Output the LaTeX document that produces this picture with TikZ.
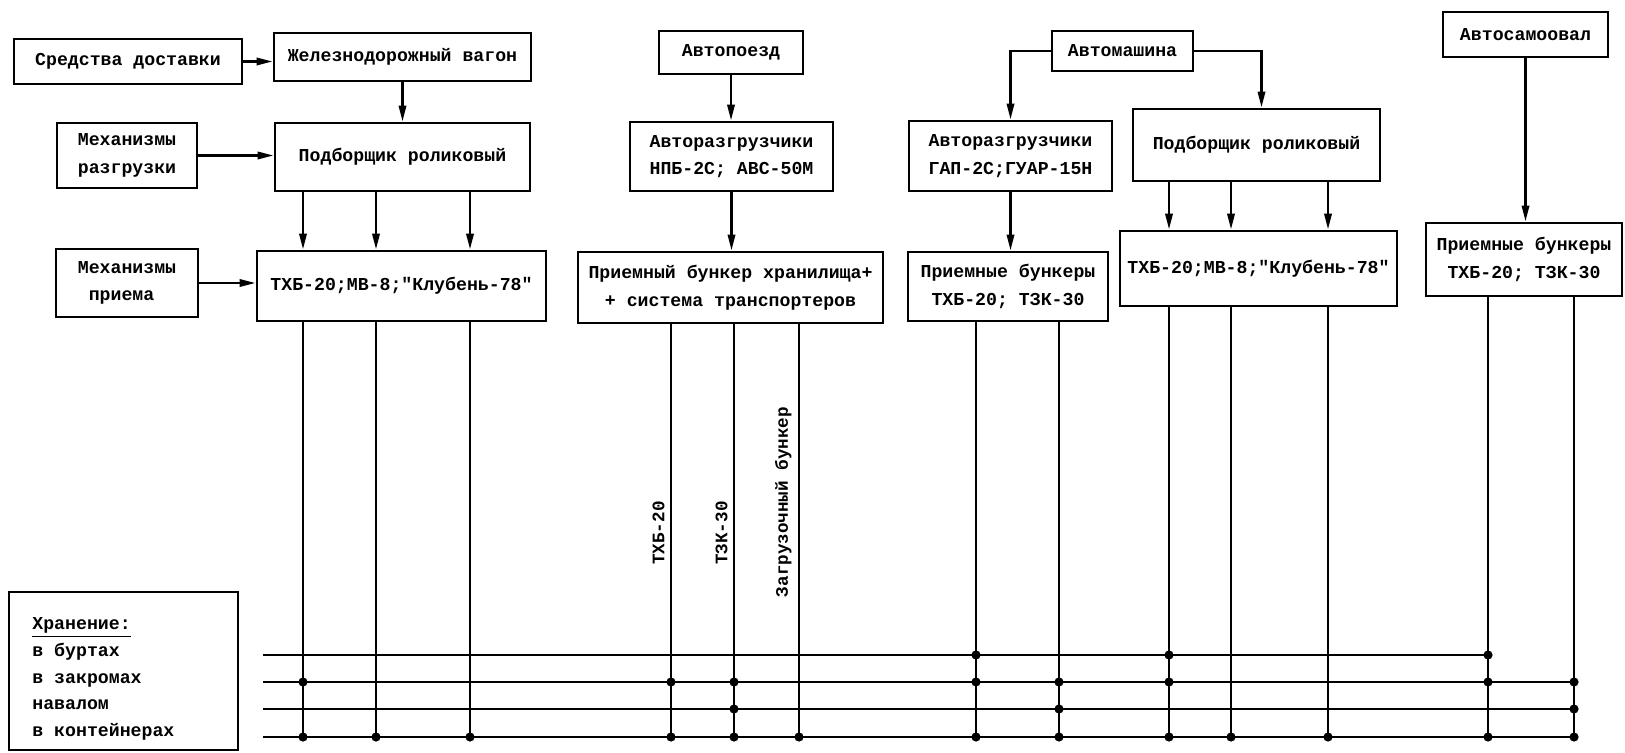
\documentclass[tikz,border=0pt]{standalone}
\usepackage{fontspec}
\setmonofont{Liberation Mono}
\usetikzlibrary{arrows.meta}

\begin{document}
\begin{tikzpicture}[x=0.5pt,y=-0.5pt,
  box/.style={draw, line width=1.3pt, align=center, inner sep=2pt,
    font=\ttfamily\bfseries\fontsize{9.1}{13.8}\selectfont},
  lbl/.style={font=\ttfamily\bfseries\fontsize{8.8}{10}\selectfont,
    rotate=90, inner sep=0pt},
  arr/.style={line width=1.3pt, -{Triangle[length=8pt,width=3.6pt]}},
  ln/.style={line width=1.3pt}]
  \useasboundingbox (0,0) rectangle (1625,753);
  % delivery and unloading
  \node[box, minimum width=114pt, minimum height=22.5pt] (dost) at (128,61.5) {Средства доставки};
  \node[box, minimum width=128.5pt, minimum height=24pt] (vagon) at (402.5,57) {Железнодорожный вагон};
  \node[box, minimum width=70pt, minimum height=32.5pt] (razgr) at (127,155.5) {Механизмы\\разгрузки};
  \node[box, minimum width=127.5pt, minimum height=34pt] (podb1) at (402.5,157) {Подборщик роликовый};
  \node[box, minimum width=71pt, minimum height=34pt, align=left] (priem) at (127,283) {Механизмы\\\hspace*{0.6em}приема};
  \node[box, minimum width=144.5pt, minimum height=35pt] (tkhb1) at (401.5,286) {ТХБ-20;МВ-8;"Клубень-78"};
  \node[box, minimum width=72pt, minimum height=21.5pt] (avtopoezd) at (731,52.5) {Автопоезд};
  \node[box, minimum width=101.5pt, minimum height=34.5pt] (avtorazgr1) at (731.5,156.5) {Авторазгрузчики\\НПБ-2С; АВС-50М};
  \node[box, minimum width=152.5pt, minimum height=35.5pt] (bunker) at (730.5,287.5) {Приемный бункер хранилища+\\+ система транспортеров};
  \node[box, minimum width=70.5pt, minimum height=20pt] (avtomash) at (1122.5,51) {Автомашина};
  \node[box, minimum width=101.5pt, minimum height=35pt] (avtorazgr2) at (1010.5,156) {Авторазгрузчики\\ГАП-2С;ГУАР-15Н};
  \node[box, minimum width=100pt, minimum height=34.5pt] (bunk2) at (1008,286.5) {Приемные бункеры\\ТХБ-20; ТЗК-30};
  \node[box, minimum width=123.5pt, minimum height=36pt] (podb2) at (1256.5,145) {Подборщик роликовый};
  \node[box, minimum width=138.5pt, minimum height=37.5pt] (tkhb2) at (1258.5,268.5) {ТХБ-20;МВ-8;"Клубень-78"};
  \node[box, minimum width=82.5pt, minimum height=22.5pt] (avtosam) at (1525.5,34.5) {Автосамоовал};
  \node[box, minimum width=98pt, minimum height=36.5pt] (bunk3) at (1524,259.5) {Приемные бункеры\\ТХБ-20; ТЗК-30};
  % storage legend
  \node[draw, line width=1.3pt, minimum width=114.5pt, minimum height=79pt, inner sep=0pt] (khran) at (123.5,671) {};
  \node[font=\ttfamily\bfseries\fontsize{9.1}{13.3}\selectfont, align=left, anchor=west, inner sep=0pt] (khrantxt)
    at (32,679) {\underline{Хранение:}\\в буртах\\в закромах\\навалом\\в контейнерах};
  % storage lines
  \coordinate (s1) at (263,655); \coordinate (e1) at (1488,655);
  \coordinate (s2) at (263,682); \coordinate (e2) at (1574,682);
  \coordinate (s3) at (263,709); \coordinate (e3) at (1574,709);
  \coordinate (s4) at (263,737); \coordinate (e4) at (1574,737);
  \foreach \r in {1,2,3,4}
    \draw[ln] (s\r) -- (e\r);
  \foreach \c/\x in {a1/303,a2/376,a3/470,b1/671,b2/734,b3/799,c1/976,c2/1059,
                     d1/1169,d2/1231,d3/1328,f1/1488,f2/1574}
    \coordinate (\c) at (\x,0);
  % arrows
  \draw[arr] (dost.east) -- (dost.east -| vagon.west);
  \draw[arr] (vagon.south) -- (vagon.south |- podb1.north);
  \draw[arr] (razgr.east) -- (razgr.east -| podb1.west);
  \draw[arr] (priem.east) -- (priem.east -| tkhb1.west);
  \foreach \c in {a1,a2,a3}
    \draw[arr] (podb1.south -| \c) -- (tkhb1.north -| \c);
  \draw[arr] (avtopoezd.south) -- (avtopoezd.south |- avtorazgr1.north);
  \draw[arr] (avtorazgr1.south) -- (avtorazgr1.south |- bunker.north);
  \draw[arr] (avtomash.west) -| (avtorazgr2.north);
  \draw[arr] (avtomash.east) -| ([xshift=2.5pt]podb2.north);
  \draw[arr] (avtorazgr2.south) -- (avtorazgr2.south |- bunk2.north);
  \foreach \c in {d1,d2,d3}
    \draw[arr] (podb2.south -| \c) -- (tkhb2.north -| \c);
  \draw[arr] (avtosam.south) -- (avtosam.south |- bunk3.north);
  % down to storage
  \foreach \c in {a1,a2,a3}
    \draw[ln] (tkhb1.south -| \c) -- (\c |- s4);
  \foreach \c in {b1,b2,b3}
    \draw[ln] (bunker.south -| \c) -- (\c |- s4);
  \foreach \c in {c1,c2}
    \draw[ln] (bunk2.south -| \c) -- (\c |- s4);
  \foreach \c in {d1,d2,d3}
    \draw[ln] (tkhb2.south -| \c) -- (\c |- s4);
  \foreach \c in {f1,f2}
    \draw[ln] (bunk3.south -| \c) -- (\c |- s4);
  \foreach \c/\r in {a1/2,a1/4,a2/4,a3/4,b1/2,b1/4,b2/2,b2/3,b2/4,b3/4,
                     c1/1,c1/2,c1/4,c2/2,c2/3,c2/4,d1/1,d1/2,d1/4,d2/4,d3/4,
                     f1/1,f1/2,f1/4,f2/2,f2/3,f2/4}
    \fill (\c |- s\r) circle[radius=2.3pt];
  % labels along the lines
  \node[lbl, anchor=south] (lTXB) at (665,533) {ТХБ-20};
  \node[lbl, anchor=south] (lTZK) at (728,533) {ТЗК-30};
  \node[lbl, anchor=south] (lZag) at (792,502) {Загрузочный бункер};
\end{tikzpicture}
\end{document}
